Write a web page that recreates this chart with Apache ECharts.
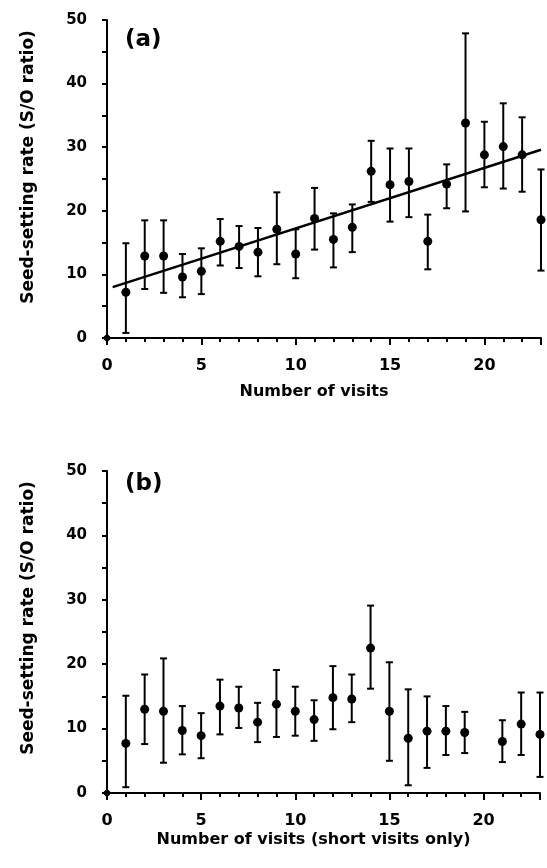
<!DOCTYPE html>
<html>
<head>
<meta charset="utf-8">
<script src="https://cdn.jsdelivr.net/npm/echarts@6/dist/echarts.min.js"></script>
<style>
html,body{margin:0;padding:0;background:#fff;}
#chart{width:547px;height:868px;}
</style>
</head>
<body>
<div id="chart"></div>
<script>
// ---- Data ----
const visitsA = [1,2,3,4,5,6,7,8,9,10,11,12,13,14,15,16,17,18,19,20,21,22,23];
const meanA  = [7.2,12.9,12.9,9.6,10.5,15.2,14.4,13.5,17.1,13.2,18.8,15.5,17.4,26.2,24.1,24.6,15.2,24.2,33.8,28.8,30.1,28.8,18.6];
const upperA = [14.9,18.5,18.5,13.2,14.1,18.7,17.6,17.3,22.9,17.1,23.6,19.6,21.0,31.0,29.8,29.8,19.4,27.3,47.9,34.0,36.9,34.7,26.5];
const lowerA = [0.8,7.7,7.1,6.4,6.9,11.4,11.0,9.7,11.6,9.4,13.9,11.1,13.5,21.4,18.3,19.0,10.8,20.4,19.9,23.7,23.5,23.0,10.6];
const fitLineA = [[0.3, 8.0], [23, 29.6]];

const visitsB = [1,2,3,4,5,6,7,8,9,10,11,12,13,14,15,16,17,18,19,21,22,23];
const meanB  = [7.7,13.0,12.7,9.7,8.9,13.5,13.2,11.0,13.8,12.7,11.4,14.8,14.6,22.5,12.7,8.5,9.6,9.6,9.4,8.0,10.7,9.1];
const upperB = [15.1,18.4,20.9,13.5,12.4,17.6,16.5,14.0,19.1,16.5,14.4,19.7,18.4,29.1,20.3,16.1,15.0,13.5,12.6,11.3,15.6,15.6];
const lowerB = [0.9,7.6,4.7,6.0,5.4,9.1,10.1,7.9,8.7,8.9,8.1,9.9,11.0,16.2,5.0,1.2,3.9,5.9,6.2,4.8,5.9,2.5];

const originPoint = [[0, 0]];
const yTicks = [0, 10, 20, 30, 40, 50];
const xTicks = [0, 5, 10, 15, 20];
const yTitle = 'Seed-setting rate (S/O ratio)';
const xTitleA = 'Number of visits';
const xTitleB = 'Number of visits (short visits only)';
const panelLabels = ['(a)', '(b)'];

// ---- Build options ----
const FONT = 'DejaVu Sans';
const INK = '#000';

function pts(xs, ys) { return xs.map((x, i) => [x, ys[i]]); }
function bars(xs, lo, hi) { return xs.map((x, i) => [x, lo[i], hi[i]]); }

function errorRender(params, api) {
  const x = api.value(0);
  const lo = api.coord([x, api.value(1)]);
  const hi = api.coord([x, api.value(2)]);
  const cap = 3.5;
  const st = { stroke: INK, lineWidth: 2 };
  return {
    type: 'group',
    children: [
      { type: 'line', shape: { x1: lo[0], y1: lo[1], x2: hi[0], y2: hi[1] }, style: st },
      { type: 'line', shape: { x1: lo[0] - cap, y1: lo[1], x2: lo[0] + cap, y2: lo[1] }, style: st },
      { type: 'line', shape: { x1: hi[0] - cap, y1: hi[1], x2: hi[0] + cap, y2: hi[1] }, style: st }
    ]
  };
}

function xAxisMain(gi, name, gap) {
  return {
    type: 'value', gridIndex: gi, min: 0, max: 23, interval: 1,
    name: name, nameLocation: 'middle', nameGap: gap,
    nameTextStyle: { fontFamily: FONT, fontWeight: 'bold', fontSize: 16, color: INK, padding: [0, 20, 0, 0] },
    axisLine: { show: true, lineStyle: { color: INK, width: 2 } },
    axisTick: { show: true, length: 4, lineStyle: { color: INK, width: 2 } },
    axisLabel: {
      margin: 20, fontFamily: FONT, fontWeight: 'bold', fontSize: 16, color: INK,
      formatter: v => (xTicks.indexOf(v) >= 0 ? String(v) : '')
    },
    splitLine: { show: false }
  };
}
function xAxisMajor(gi) {
  return {
    type: 'value', gridIndex: gi, min: 0, max: 23, interval: 5, position: 'bottom',
    axisLine: { show: false },
    axisTick: { show: true, length: 7, lineStyle: { color: INK, width: 2 } },
    axisLabel: { show: false },
    splitLine: { show: false }
  };
}
function yAxis(gi, pad) {
  return {
    type: 'value', gridIndex: gi, min: 0, max: 50, interval: 5,
    name: yTitle, nameLocation: 'middle', nameGap: 70, nameRotate: 90,
    nameTextStyle: { fontFamily: FONT, fontWeight: 'bold', fontSize: 17, color: INK, padding: [0, 0, 0, pad] },
    axisLine: { show: true, lineStyle: { color: INK, width: 2 } },
    axisTick: { show: true, length: 5, lineStyle: { color: INK, width: 2 } },
    axisLabel: {
      margin: 20, fontFamily: FONT, fontWeight: 'bold', fontSize: 15, color: INK,
      formatter: v => (yTicks.indexOf(v) >= 0 ? String(v) : '')
    },
    splitLine: { show: false }
  };
}

const dotStyle = { color: INK, opacity: 1 };

const option = {
  backgroundColor: '#fff',
  animation: false,
  title: [
    { text: panelLabels[0], left: 120, top: 24, textStyle: { fontFamily: FONT, fontWeight: 'bold', fontSize: 23, color: INK } },
    { text: panelLabels[1], left: 120, top: 468, textStyle: { fontFamily: FONT, fontWeight: 'bold', fontSize: 23, color: INK } }
  ],
  grid: [
    { left: 107, top: 20, width: 434, height: 318 },
    { left: 107, top: 471, width: 433, height: 322 }
  ],
  xAxis: [
    xAxisMain(0, xTitleA, 46), xAxisMajor(0),
    xAxisMain(1, xTitleB, 39), xAxisMajor(1)
  ],
  yAxis: [yAxis(0, 24), yAxis(1, 28)],
  series: [
    { type: 'line', xAxisIndex: 0, yAxisIndex: 0, data: fitLineA, showSymbol: false, symbol: 'none',
      lineStyle: { color: INK, width: 2.5 }, z: 2, silent: true },
    { type: 'custom', xAxisIndex: 0, yAxisIndex: 0, data: bars(visitsA, lowerA, upperA),
      renderItem: errorRender, clip: false, z: 3, encode: { x: 0, y: [1, 2] } },
    { type: 'scatter', xAxisIndex: 0, yAxisIndex: 0, data: pts(visitsA, meanA), symbolSize: 9,
      itemStyle: dotStyle, clip: false, z: 4 },
    { type: 'scatter', xAxisIndex: 0, yAxisIndex: 0, data: originPoint, symbol: 'diamond', symbolSize: 9,
      itemStyle: dotStyle, clip: false, z: 5 },

    { type: 'custom', xAxisIndex: 2, yAxisIndex: 1, data: bars(visitsB, lowerB, upperB),
      renderItem: errorRender, clip: false, z: 3, encode: { x: 0, y: [1, 2] } },
    { type: 'scatter', xAxisIndex: 2, yAxisIndex: 1, data: pts(visitsB, meanB), symbolSize: 9,
      itemStyle: dotStyle, clip: false, z: 4 },
    { type: 'scatter', xAxisIndex: 2, yAxisIndex: 1, data: originPoint, symbol: 'diamond', symbolSize: 9,
      itemStyle: dotStyle, clip: false, z: 5 }
  ]
};

const chart = echarts.init(document.getElementById('chart'), null, { renderer: 'canvas' });
chart.setOption(option);
</script>
</body>
</html>
